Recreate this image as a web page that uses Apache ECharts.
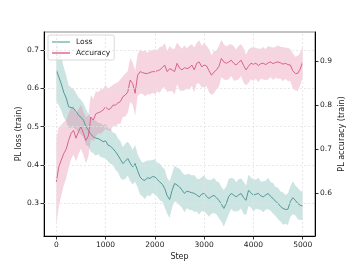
<!DOCTYPE html>
<html><head><meta charset="utf-8">
<script src="https://cdn.jsdelivr.net/npm/echarts@6/dist/echarts.min.js"></script>
<style>html,body{margin:0;padding:0;background:#fff}#c{width:354px;height:266px}</style>
</head><body><div id="c"></div>
<script>
const steps = [];
for (let s = 0; s <= 5000; s += 50) steps.push(s);
const lossValues = [0.648,0.63,0.612,0.59,0.575,0.552,0.55,0.548,0.54,0.53,0.525,0.517,0.50,0.491,0.48,0.474,0.47,0.469,0.465,0.461,
0.463,0.452,0.449,0.443,0.435,0.426,0.415,0.404,0.41,0.417,0.405,0.395,0.404,0.385,0.369,0.362,0.36,0.367,0.365,0.37,
0.369,0.362,0.356,0.35,0.339,0.32,0.31,0.334,0.352,0.348,0.343,0.335,0.326,0.332,0.33,0.328,0.326,0.322,0.317,0.324,
0.326,0.318,0.313,0.318,0.321,0.315,0.308,0.298,0.287,0.3,0.318,0.326,0.322,0.317,0.322,0.326,0.315,0.308,0.334,0.328,
0.321,0.324,0.326,0.32,0.317,0.322,0.326,0.318,0.313,0.305,0.3,0.292,0.287,0.284,0.285,0.305,0.315,0.308,0.3,0.295,0.293];
const lossSpread = [0.08,0.075,0.07,0.066,0.06,0.056,0.052,0.05,0.048,0.046,0.045,
0.044,0.047,0.042,0.045,0.043,0.046,0.041,0.044,0.042,0.045,
0.043,0.046,0.042,0.047,0.044,0.048,0.043,0.046,0.044,0.047,
0.045,0.048,0.043,0.046,0.044,0.049,0.045,0.047,0.043,0.046,
0.044,0.048,0.045,0.05,0.046,0.048,0.044,0.047,0.045,0.048,
0.046,0.049,0.044,0.047,0.045,0.048,0.043,0.046,0.044,0.047,
0.045,0.048,0.044,0.046,0.043,0.047,0.045,0.048,0.044,0.046,
0.04,0.043,0.038,0.041,0.039,0.042,0.038,0.041,0.039,0.042,
0.038,0.041,0.037,0.04,0.038,0.041,0.037,0.04,0.038,0.041,
0.039,0.042,0.038,0.041,0.04,0.043,0.039,0.041,0.038,0.036];
const accValues = [0.626,0.66,0.675,0.69,0.70,0.72,0.736,0.743,0.725,0.74,0.751,0.736,0.72,0.73,0.773,0.766,0.78,0.783,0.785,0.789,
0.796,0.79,0.792,0.80,0.80,0.805,0.808,0.819,0.823,0.83,0.857,0.849,0.827,0.868,0.876,0.874,0.872,0.872,0.874,0.876,
0.876,0.878,0.88,0.885,0.891,0.876,0.883,0.88,0.876,0.895,0.884,0.88,0.885,0.883,0.885,0.891,0.88,0.895,0.898,0.887,
0.891,0.889,0.878,0.868,0.875,0.88,0.888,0.906,0.898,0.895,0.898,0.902,0.895,0.891,0.897,0.902,0.89,0.88,0.888,0.895,
0.893,0.895,0.89,0.894,0.895,0.892,0.896,0.898,0.894,0.897,0.898,0.896,0.893,0.895,0.892,0.891,0.878,0.872,0.872,0.882,0.898];
const accSpread = [0.1,0.09,0.08,0.072,0.066,0.062,0.058,0.055,0.053,0.051,0.05,
0.049,0.052,0.047,0.05,0.048,0.051,0.047,0.05,0.048,0.05,
0.047,0.05,0.046,0.049,0.047,0.05,0.046,0.049,0.047,0.05,
0.048,0.051,0.047,0.05,0.048,0.052,0.047,0.05,0.048,0.051,
0.047,0.052,0.048,0.05,0.047,0.051,0.048,0.052,0.047,0.05,
0.048,0.051,0.046,0.05,0.047,0.051,0.046,0.049,0.047,0.05,
0.046,0.049,0.045,0.048,0.044,0.046,0.042,0.04,0.038,0.039,
0.036,0.039,0.035,0.038,0.036,0.039,0.035,0.038,0.036,0.038,
0.035,0.038,0.034,0.037,0.035,0.038,0.034,0.037,0.035,0.038,
0.036,0.039,0.035,0.038,0.036,0.04,0.038,0.04,0.037,0.035];
const xTicks = [0,1000,2000,3000,4000,5000];
const lossTicks = [0.3,0.4,0.5,0.6,0.7];
const accTicks = [0.6,0.7,0.8,0.9];

const pair = (arr) => steps.map((s,i)=>[s,arr[i]]);
const bandData = (vals, spr) => steps.map((s,i)=>[s, vals[i]-spr[i], vals[i]+spr[i]]);

function bandRenderer(rows, fill) {
  return function(params, api) {
    if (params.dataIndexInside !== 0) return null;
    const up = rows.map(r => api.coord([r[0], r[2]]));
    const lo = rows.map(r => api.coord([r[0], r[1]])).reverse();
    return {type:'polygon', shape:{points: up.concat(lo)}, style:{fill: fill}, silent:true};
  };
}
const lossRows = bandData(lossValues, lossSpread);
const accRows = bandData(accValues, accSpread);

const FONT = 'DejaVu Sans';
const txt = {color:'#222', fontFamily:FONT, fontSize:7.5};
const gridLine = {color:'#e2e2e2', type:[2,2], width:0.8};

const chart = echarts.init(document.getElementById('c'), null, {renderer:'canvas'});
chart.setOption({
  animation:false,
  grid:{left:44, top:32, right:35, bottom:30, show:true, borderColor:'#888', borderWidth:1.2, backgroundColor:'transparent'},
  legend:{
    left:48, top:35, orient:'vertical', padding:[3,4,3,4], itemGap:3, itemWidth:18, itemHeight:2,
    borderColor:'#d0d0d0', borderWidth:0.8, borderRadius:2, backgroundColor:'rgba(255,255,255,0.8)',
    textStyle:{...txt, fontSize:7.5, padding:[0,0,0,1]},
    data:[{name:'Loss', icon:'rect', itemStyle:{color:'#9ccbc8'}},{name:'Accuracy', icon:'rect', itemStyle:{color:'#e98eac'}}]
  },
  xAxis:{
    type:'value', min:-250, max:5250,
    name:'Step', nameLocation:'middle', nameGap:17, nameMoveOverlap:false, nameTextStyle:{...txt, fontSize:8},
    axisLine:{show:true, lineStyle:{color:'#000', width:1}},
    axisTick:{show:true, inside:false, length:3.5, customValues:xTicks, lineStyle:{color:'#000', width:0.8}},
    axisLabel:{...txt, margin:5, customValues:xTicks, formatter:v=>String(v)},
    splitLine:{show:false}
  },
  yAxis:[{
    type:'value', min:0.215, max:0.747, position:'left',
    name:'PL loss (train)', nameLocation:'middle', nameGap:21, nameMoveOverlap:false, nameTextStyle:{...txt, fontSize:8},
    axisLine:{show:true, onZero:false, lineStyle:{color:'#000', width:1}},
    axisTick:{show:true, inside:false, length:3.5, customValues:lossTicks, lineStyle:{color:'#000', width:0.8}},
    axisLabel:{...txt, margin:5, customValues:lossTicks, formatter:v=>v.toFixed(1)},
    splitLine:{show:false}
  },{
    type:'value', min:0.503, max:0.966, position:'right',
    name:'PL accuracy (train)', nameLocation:'middle', nameGap:23, nameRotate:90, nameMoveOverlap:false, nameTextStyle:{...txt, fontSize:8},
    axisLine:{show:true, onZero:false, lineStyle:{color:'#000', width:1}},
    axisTick:{show:true, inside:false, length:3.5, customValues:accTicks, lineStyle:{color:'#000', width:0.8}},
    axisLabel:{...txt, margin:5, customValues:accTicks, formatter:v=>v.toFixed(1)},
    splitLine:{show:false}
  }],
  series:[
    {type:'line', name:'grid', yAxisIndex:0, data:[], silent:true,
     markLine:{silent:true, symbol:'none', label:{show:false}, lineStyle:gridLine, animation:false,
       data:[...xTicks.map(v=>({xAxis:v})), ...lossTicks.map(v=>({yAxis:v}))]}},
    {type:'custom', name:'lossBand', yAxisIndex:0, data:lossRows, encode:{x:0, y:[1,2]}, silent:true,
     renderItem:bandRenderer(lossRows, 'rgba(95,170,165,0.32)')},
    {type:'line', name:'Loss', yAxisIndex:0, data:pair(lossValues), symbol:'none', lineStyle:{color:'#4f9a97', width:1}, itemStyle:{color:'#9ccbc8'}},
    {type:'custom', name:'accBand', yAxisIndex:1, data:accRows, encode:{x:0, y:[1,2]}, silent:true,
     renderItem:bandRenderer(accRows, 'rgba(228,120,160,0.32)')},
    {type:'line', name:'Accuracy', yAxisIndex:1, data:pair(accValues), symbol:'none', lineStyle:{color:'#d9628b', width:1}, itemStyle:{color:'#e98eac'}}
  ]
});
</script></body></html>
